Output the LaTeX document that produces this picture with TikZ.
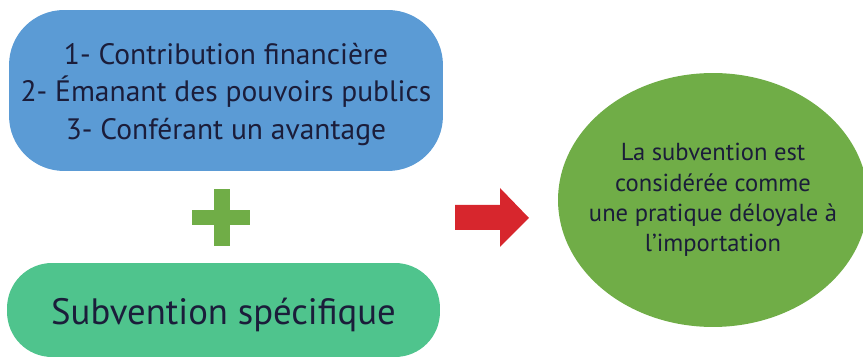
\documentclass[tikz,border=0pt]{standalone}
\usepackage{fontspec}
\setmainfont{PT Sans}
\usetikzlibrary{shapes.geometric}
\definecolor{boxblue}{HTML}{5B9BD5}
\definecolor{boxgreen}{HTML}{4FC48D}
\definecolor{plusgreen}{HTML}{70AD47}
\definecolor{arrowred}{HTML}{D7262D}
\definecolor{textnavy}{HTML}{1B1D3A}
\begin{document}
\begin{tikzpicture}[x=0.02cm,y=-0.02cm,
  box/.style={rectangle,inner sep=0pt},
  label text/.style={align=center,text=textnavy,inner sep=0pt},
  verdict/.style={ellipse,inner sep=0pt,fill=plusgreen,
    minimum width=6.2cm,minimum height=5.08cm}]
  \useasboundingbox (0,0) rectangle (863,357);
  \node [box,fill=boxblue,rounded corners=1.1cm,
    minimum width=8.68cm,minimum height=3.22cm] (criteria) at (226,90.5) {};
  \node [label text,yshift=-0.08cm,font=\fontsize{16.8}{21.5}\selectfont]
    (criteria text) at (criteria.center)
    {1- Contribution financière\\2- Émanant des pouvoirs publics\\3- Conférant un avantage};
  \node [box,fill=boxgreen,rounded corners=0.9cm,
    minimum width=8.66cm,minimum height=1.88cm] (specific) at (223.5,310) {};
  \node [label text,yshift=-0.1cm,font=\fontsize{20.9}{24}\selectfont]
    (specific text) at (specific.center) {Subvention spécifique};
  \node [verdict] (unfair) at (713,200) {};
  \node [label text,font=\fontsize{14}{17.3}\selectfont]
    (unfair text) at (unfair.center)
    {La subvention est\\considérée comme\\une pratique déloyale à\\l’importation};
  % plus sign
  \fill [plusgreen] (192,210) rectangle (250,225);
  \fill [plusgreen] (214,189) rectangle (230,246);
  % block arrow
  \fill [arrowred]
    (455,205)
    -- ++(45,0)
    -- ++(0,-17)
    -- (529,218)
    -- (500,247)
    -- ++(0,-17)
    -- ++(-45,0)
    -- cycle
  ;
\end{tikzpicture}
\end{document}
